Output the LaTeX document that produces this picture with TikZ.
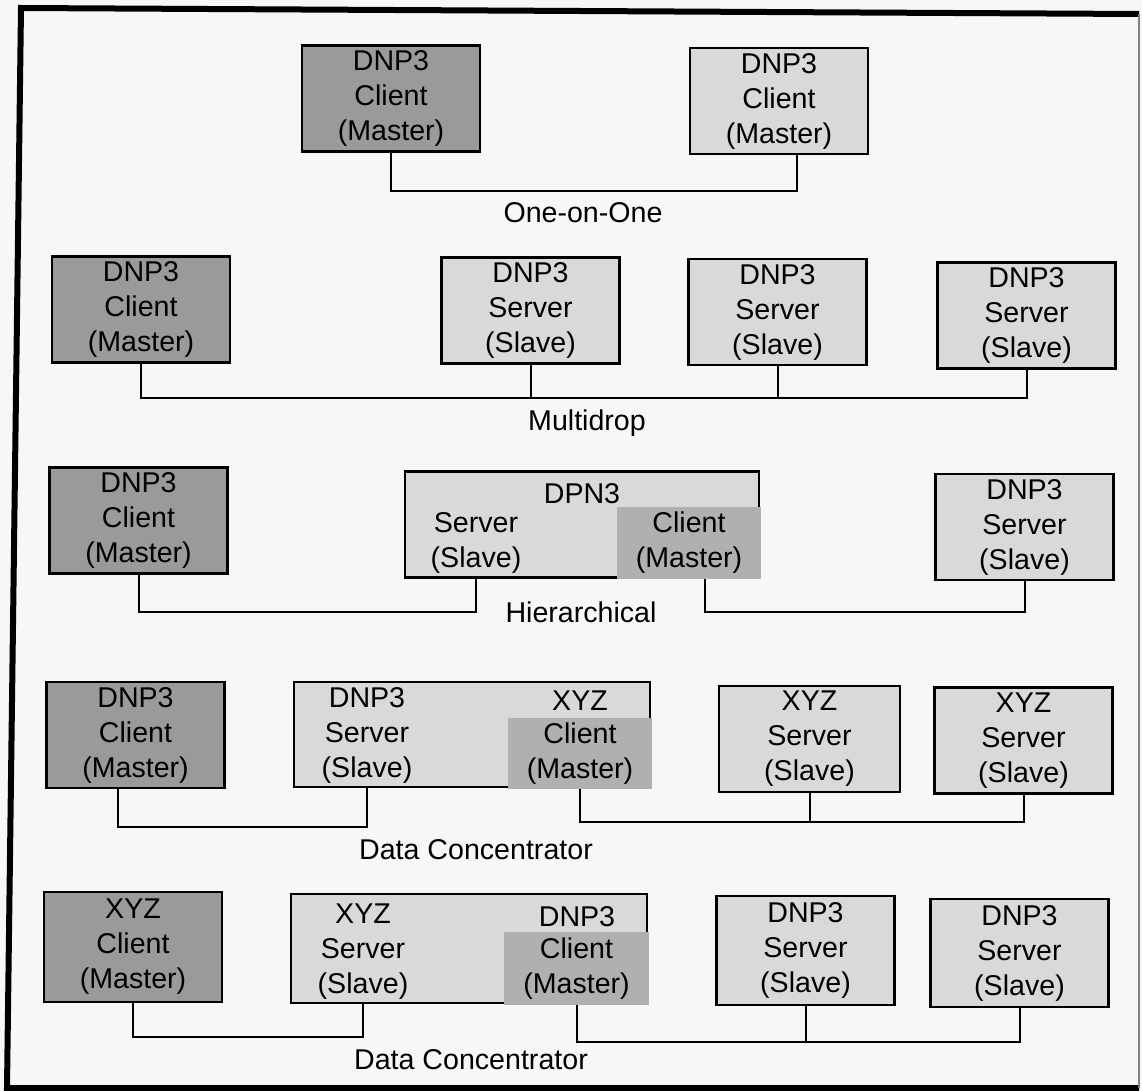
\documentclass[tikz,border=0pt]{standalone}
\usepackage{fontspec}
\setmainfont{Liberation Sans}
\definecolor{mastergray}{HTML}{9A9A9A}
\definecolor{slavegray}{HTML}{D9D9D9}
\definecolor{subgray}{HTML}{B0B0B0}
\definecolor{paper}{HTML}{F7F7F7}
\begin{document}
\begin{tikzpicture}[x=0.5pt,y=-0.5pt,line join=miter,
  font=\fontsize{14.3}{17.5}\selectfont,
  unit/.style={draw,line width=1.2pt,align=center,inner sep=0pt,minimum width=89pt,minimum height=53pt},
  master/.style={unit,fill=mastergray},
  slave/.style={unit,fill=slavegray},
  sub/.style={fill=subgray,align=center,inner sep=0pt},
  txt/.style={align=center,inner sep=0pt},
  link/.style={line width=1pt}]
  \useasboundingbox (0,0) rectangle (1142,1091);
  \fill[paper] (0,0) rectangle (1142,1091);
  % frame
  \draw[line width=3pt] (1139,14) -- (21,8) -- (7,1088) -- (1139,1088);
  \draw[line width=0.8pt,gray] (1139,14) -- (1139,1088);
  % one-on-one
  \node[master] (m1) at (391,98.5) {DNP3\\Client\\(Master)};
  \node[slave] (s1) at (779,101) {DNP3\\Client\\(Master)};
  \coordinate (b1) at (0,191);
  \draw[link] (m1.south) -- (m1.south |- b1) -| ([xshift=9pt]s1.south);
  \node[txt] (l1) at (583,213) {One-on-One};
  % multidrop
  \node[master] (m2) at (141,309.5) {DNP3\\Client\\(Master)};
  \node[slave] (s21) at (530.5,310.5) {DNP3\\Server\\(Slave)};
  \node[slave] (s22) at (777.5,312) {DNP3\\Server\\(Slave)};
  \node[slave] (s23) at (1026.5,315.5) {DNP3\\Server\\(Slave)};
  \coordinate (b2) at (0,398);
  \draw[link] (m2.south) -- (m2.south |- b2) -| (s23.south);
  \foreach \n in {s21,s22}
    \draw[link] (\n.south) -- (\n.south |- b2);
  \node[txt] (l2) at (587,423) {Multidrop};
  % hierarchical
  \node[master] (m3) at (138.5,520.5) {DNP3\\Client\\(Master)};
  \node[slave,minimum width=177pt] (h3) at (582,524.5) {};
  \node[sub,minimum width=72pt,minimum height=36pt] (h3c) at (689,543) {Client\\(Master)};
  \node[txt] (h3t) at (582,494) {DPN3};
  \node[txt] (h3s) at (476,543) {Server\\(Slave)};
  \node[slave] (s3) at (1024.5,527) {DNP3\\Server\\(Slave)};
  \coordinate (b3) at (0,612);
  \draw[link] (m3.south) -- (m3.south |- b3) -| (h3s |- h3.south);
  \draw[link] ([xshift=8pt]h3c.south) -- ([xshift=8pt]h3c.south |- b3) -| (s3.south);
  \node[txt] (l3) at (581,612) {Hierarchical};
  % data concentrator, DNP3 to XYZ
  \node[master] (m4) at (135.5,735) {DNP3\\Client\\(Master)};
  \node[slave,minimum width=178pt,minimum height=52.5pt] (d4) at (472,734.5) {};
  \node[sub,minimum width=72pt,minimum height=35.5pt] (d4c) at (580,753.5) {Client\\(Master)};
  \node[txt] (d4t) at (580,701) {XYZ};
  \node[txt] (d4s) at (367,735) {DNP3\\Server\\(Slave)};
  \node[slave,minimum width=90.5pt] (x41) at (809.5,739) {XYZ\\Server\\(Slave)};
  \node[slave] (x42) at (1023.5,740.5) {XYZ\\Server\\(Slave)};
  \coordinate (b4) at (0,827);
  \coordinate (b4r) at (0,822);
  \draw[link] ([xshift=-9pt]m4.south) -- ([xshift=-9pt]m4.south |- b4) -| (d4s |- d4.south);
  \draw[link] (d4c.south) -- (d4c.south |- b4r) -| (x42.south);
  \draw[link] (x41.south) -- (x41.south |- b4r);
  \node[txt] (l4) at (476,850) {Data Concentrator};
  % data concentrator, XYZ to DNP3
  \node[master,minimum height=55pt] (m5) at (133,947) {XYZ\\Client\\(Master)};
  \node[slave,minimum width=178pt,minimum height=54.5pt] (d5) at (469,948.5) {};
  \node[sub,minimum width=72.5pt,minimum height=36.5pt] (d5c) at (576.5,968.5) {Client\\(Master)};
  \node[txt] (d5t) at (577,917) {DNP3};
  \node[txt] (d5s) at (363,952) {XYZ\\Server\\(Slave)};
  \node[slave,minimum height=54.5pt] (y51) at (805.5,950.5) {DNP3\\Server\\(Slave)};
  \node[slave,minimum height=54pt] (y52) at (1019.5,953) {DNP3\\Server\\(Slave)};
  \coordinate (b5) at (0,1037);
  \coordinate (b5r) at (0,1042);
  \draw[link] (m5.south) -- (m5.south |- b5) -| (d5s |- d5.south);
  \draw[link] (d5c.south) -- (d5c.south |- b5r) -| (y52.south);
  \draw[link] (y51.south) -- (y51.south |- b5r);
  \node[txt] (l5) at (471,1060) {Data Concentrator};
\end{tikzpicture}
\end{document}
